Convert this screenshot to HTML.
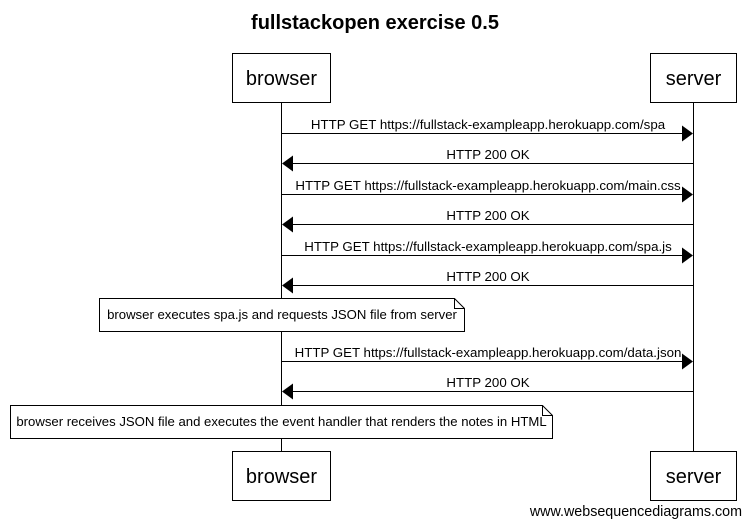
<!DOCTYPE html>
<html><head><style>body{margin:0;background:#fff}svg{display:block}</style></head>
<body>
<svg width="750" height="524" xmlns="http://www.w3.org/2000/svg" font-family="Liberation Sans, Arial, sans-serif">
<rect width="750" height="524" fill="#fff"/>
<text x="375" y="29" text-anchor="middle" font-size="20" font-weight="bold">fullstackopen exercise 0.5</text>
<g stroke="#000" stroke-width="1" fill="#fff">
<line x1="281.5" y1="102" x2="281.5" y2="452"/>
<line x1="693.5" y1="102" x2="693.5" y2="452"/>
<rect x="232.5" y="53.5" width="98" height="49"/>
<rect x="650.5" y="53.5" width="86" height="49"/>
<rect x="232.5" y="451.5" width="98" height="49"/>
<rect x="650.5" y="451.5" width="86" height="49"/>
<polygon points="99.5,298.5 454.5,298.5 464.5,308.5 464.5,331.5 99.5,331.5"/>
<polyline points="454.5,298.5 454.5,308.5 464.5,308.5" fill="none"/>
<polygon points="10.5,405.5 542.5,405.5 552.5,415.5 552.5,438.5 10.5,438.5"/>
<polyline points="542.5,405.5 542.5,415.5 552.5,415.5" fill="none"/>
</g>
<g font-size="20" text-anchor="middle">
<text x="281.5" y="85">browser</text><text x="693.5" y="85">server</text>
<text x="281.5" y="483">browser</text><text x="693.5" y="483">server</text>
</g>
<g stroke="#000" stroke-width="1">
<line x1="281" y1="133.5" x2="683" y2="133.5"/>
<line x1="292" y1="163.5" x2="693" y2="163.5"/>
<line x1="281" y1="194.5" x2="683" y2="194.5"/>
<line x1="292" y1="224.5" x2="693" y2="224.5"/>
<line x1="281" y1="255.5" x2="683" y2="255.5"/>
<line x1="292" y1="285.5" x2="693" y2="285.5"/>
<line x1="281" y1="361.5" x2="683" y2="361.5"/>
<line x1="292" y1="391.5" x2="693" y2="391.5"/>
</g>
<g fill="#000">
<polygon points="693,133.5 682,125.5 682,141.5"/>
<polygon points="282,163.5 293,155.5 293,171.5"/>
<polygon points="693,194.5 682,186.5 682,202.5"/>
<polygon points="282,224.5 293,216.5 293,232.5"/>
<polygon points="693,255.5 682,247.5 682,263.5"/>
<polygon points="282,285.5 293,277.5 293,293.5"/>
<polygon points="693,361.5 682,353.5 682,369.5"/>
<polygon points="282,391.5 293,383.5 293,399.5"/>
</g>
<g font-size="13.3" text-anchor="middle">
<text x="488" y="129">HTTP GET https://fullstack-exampleapp.herokuapp.com/spa</text>
<text x="488" y="159">HTTP 200 OK</text>
<text x="488" y="190">HTTP GET https://fullstack-exampleapp.herokuapp.com/main.css</text>
<text x="488" y="220">HTTP 200 OK</text>
<text x="488" y="251">HTTP GET https://fullstack-exampleapp.herokuapp.com/spa.js</text>
<text x="488" y="281">HTTP 200 OK</text>
<text x="488" y="357">HTTP GET https://fullstack-exampleapp.herokuapp.com/data.json</text>
<text x="488" y="387">HTTP 200 OK</text>
</g>
<g font-size="13.15" text-anchor="middle">
<text x="282" y="319">browser executes spa.js and requests JSON file from server</text>
<text x="281.5" y="426">browser receives JSON file and executes the event handler that renders the notes in HTML</text>
</g>
<text x="742" y="516" font-size="14.3" text-anchor="end">www.websequencediagrams.com</text>
</svg>
</body></html>
